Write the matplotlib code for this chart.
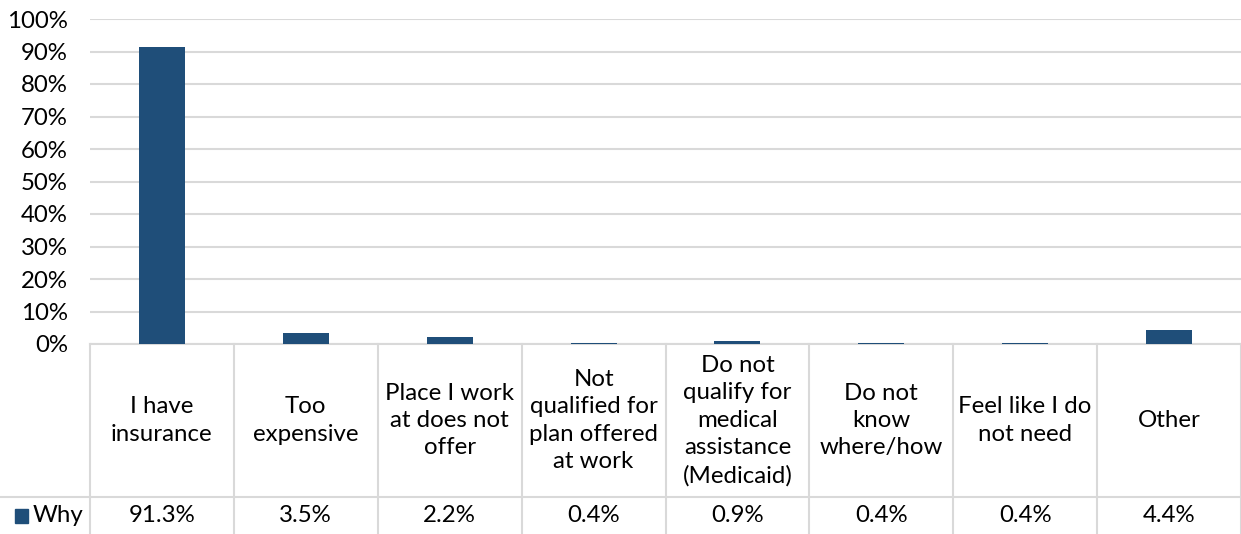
import numpy as np
import matplotlib.pyplot as plt
import matplotlib.transforms as mtransforms

plt.rcParams['font.family'] = ['Lato', 'DejaVu Sans']

categories = ["I have\ninsurance", "Too\nexpensive", "Place I work\nat does not\noffer",
              "Not\nqualified for\nplan offered\nat work", "Do not\nqualify for\nmedical\nassistance\n(Medicaid)",
              "Do not\nknow\nwhere/how", "Feel like I do\nnot need", "Other"]
values = [91.3, 3.5, 2.2, 0.4, 0.9, 0.4, 0.4, 4.4]
labels = ["91.3%", "3.5%", "2.2%", "0.4%", "0.9%", "0.4%", "0.4%", "4.4%"]
series = "Why"
yticks = [0, 10, 20, 30, 40, 50, 60, 70, 80, 90, 100]

bar_color = '#1F4E79'
grid_color = '#D9D9D9'
W, H = 1241, 534
fs = 17.3

fig = plt.figure(figsize=(W/100., H/100.), dpi=100)
ax = fig.add_axes([90./W, (H-344.)/H, (1241.-90.)/W, (344.-19.)/H])

x = np.arange(len(values))
ax.bar(x, values, width=0.32, color=bar_color, zorder=3)
ax.set_xlim(-0.5, len(values)-0.5)
ax.set_ylim(0, 100)
ax.set_yticks(yticks)
ax.set_yticklabels(["%d%%" % t for t in yticks], fontsize=fs, color='#000000')
ax.tick_params(axis='y', length=0, pad=16)
ax.set_xticks([])
ax.grid(axis='y', color=grid_color, linewidth=1.5, zorder=0)
for s in ['left', 'right', 'top']:
	ax.spines[s].set_visible(False)
ax.spines['bottom'].set_color(grid_color)
ax.spines['bottom'].set_linewidth(1.5)

# data table below the axis
tr = mtransforms.blended_transform_factory(ax.transData, ax.transAxes)
ph = 325.
y_head = -(497.-344.)/ph
y_bot = -(534.-344.)/ph
for i in range(len(values)+1):
	ax.plot([i-0.5, i-0.5], [0, y_bot], transform=tr, color=grid_color, lw=1.5, clip_on=False)
ax.plot([-0.5-90./144, len(values)-0.5], [y_head, y_head], transform=tr, color=grid_color, lw=1.5, clip_on=False)

for i in range(len(values)):
	ax.text(i, y_head/2., categories[i], transform=tr, ha='center', va='center',
		fontsize=fs, linespacing=1.38, color='#000000')
	ax.text(i, (y_head+y_bot)/2., labels[i], transform=tr, ha='center', va='center',
		fontsize=fs, color='#000000')

# legend key
fig.patches.append(plt.Rectangle((15./W, (H-523.)/H), 13./W, 14./H, transform=fig.transFigure,
	color=bar_color))
fig.text(33./W, (H-516.)/H, series, ha='left', va='center', fontsize=fs, color='#000000')

fig.savefig('out.png', dpi=100)
